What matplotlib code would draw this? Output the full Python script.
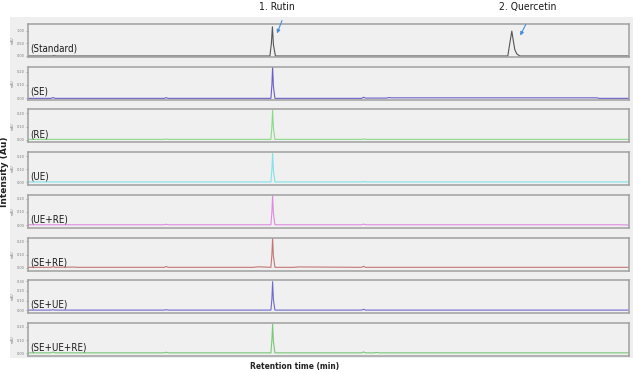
import matplotlib
matplotlib.use("Agg")
import matplotlib.pyplot as plt
from matplotlib.patches import Rectangle, FancyArrowPatch

plt.rcParams['font.family'] = ['DejaVu Sans']
plt.rcParams['font.stretch'] = 'condensed'

# retention time key points (min) and intensities (AU)
sample_names = ['(Standard)', '(SE)', '(RE)', '(UE)', '(UE+RE)', '(SE+RE)', '(SE+UE)', '(SE+UE+RE)']
line_colors = ['#555555', '#6a5fc8', '#8ada8a', '#7fe3e8', '#e08ae0', '#c47676', '#6e6ad0', '#76c876']

std_t = [0, 2.4, 2.6, 2.8, 24.15, 24.3, 24.4, 24.5, 24.7, 47.9, 48.1, 48.3, 48.45, 48.6, 48.8, 49.1, 60]
std_y = [0, 0, 0.01, 0, 0, 0.5, 1.15, 0.45, 0, 0, 0.5, 0.98, 0.6, 0.25, 0.08, 0, 0]

se_t = [0, 2.3, 2.5, 2.7, 13.6, 13.8, 14.0, 24.25, 24.35, 24.42, 24.5, 24.65, 33.3, 33.5, 33.7, 35.8, 36.0, 36.3, 56.8, 57.0, 60]
se_y = [0, 0, 0.006, 0, 0, 0.005, 0, 0, 0.1, 0.235, 0.09, 0, 0, 0.008, 0.002, 0.002, 0.006, 0.004, 0.004, 0, 0]

re_t = [0, 13.6, 13.8, 14.0, 24.25, 24.35, 24.42, 24.5, 24.65, 33.3, 33.5, 33.7, 60]
re_y = [0.003, 0.003, 0.006, 0.003, 0.003, 0.1, 0.225, 0.09, 0.003, 0.003, 0.007, 0.003, 0.003]

ue_t = [0, 24.25, 24.35, 24.42, 24.5, 24.65, 33.3, 33.5, 33.7, 60]
ue_y = [0.004, 0.004, 0.1, 0.22, 0.09, 0.004, 0.004, 0.007, 0.004, 0.004]

uere_t = [0, 13.6, 13.8, 14.0, 24.25, 24.35, 24.42, 24.5, 24.65, 33.3, 33.5, 33.7, 59.0, 60]
uere_y = [0.003, 0.003, 0.007, 0.003, 0.003, 0.1, 0.225, 0.09, 0.003, 0.003, 0.008, 0.003, 0.003, 0.001]

sere_t = [0, 2.3, 2.5, 2.7, 4.5, 5.0, 13.6, 13.8, 14.0, 22.5, 23.0, 24.25, 24.35, 24.42, 24.5, 24.65, 26.5, 27.0, 33.3, 33.5, 33.7, 60]
sere_y = [0.004, 0.004, 0.01, 0.004, 0.006, 0.004, 0.004, 0.01, 0.004, 0.004, 0.008, 0.004, 0.1, 0.225, 0.09, 0.004, 0.004, 0.007, 0.004, 0.012, 0.004, 0.004]

seue_t = [0, 2.3, 2.5, 2.7, 13.6, 13.8, 14.0, 24.25, 24.35, 24.42, 24.5, 24.65, 33.3, 33.5, 33.7, 60]
seue_y = [0.002, 0.002, 0.006, 0.002, 0.002, 0.006, 0.002, 0.002, 0.12, 0.295, 0.11, 0.002, 0.002, 0.01, 0.002, 0.002]

seuere_t = [0, 2.3, 2.5, 2.7, 13.6, 13.8, 14.0, 24.25, 24.35, 24.42, 24.5, 24.65, 33.3, 33.5, 33.7, 34.5, 34.8, 35.1, 60]
seuere_y = [0.003, 0.003, 0.01, 0.003, 0.003, 0.008, 0.003, 0.003, 0.1, 0.22, 0.09, 0.003, 0.003, 0.01, 0.003, 0.003, 0.006, 0.003, 0.003]

traces_t = [std_t, se_t, re_t, ue_t, uere_t, sere_t, seue_t, seuere_t]
traces_y = [std_y, se_y, re_y, ue_y, uere_y, sere_y, seue_y, seuere_y]

y_limits = [(-0.04, 1.26), (-0.01, 0.236), (-0.02, 0.23), (-0.02, 0.23),
            (-0.02, 0.23), (-0.02, 0.23), (-0.03, 0.31), (-0.02, 0.23)]
y_ticks = [[0, 0.5, 1.0], [0, 0.1, 0.2], [0, 0.1, 0.2], [0, 0.1, 0.2],
           [0, 0.1, 0.2], [0, 0.1, 0.2], [0, 0.1, 0.2, 0.3], [0, 0.1, 0.2]]

W, H = 633, 372
fig = plt.figure(figsize=(W / 100, H / 100), dpi=100)
fig.patch.set_facecolor('white')

# light grey frame behind the stacked chromatograms
bg = Rectangle((10 / W, 1 - 358 / H), (W - 10) / W, (358 - 17) / H,
               transform=fig.transFigure, facecolor='#efefef', edgecolor='none', zorder=-10)
fig.add_artist(bg)

left_px, right_px = 28, 629
for i in range(len(sample_names)):
    top_px = 24 + i * 42.7
    ax = fig.add_axes([left_px / W, 1 - (top_px + 33) / H, (right_px - left_px) / W, 33 / H])
    ax.set_facecolor('#f0f0f0')
    ax.plot(traces_t[i], traces_y[i], color=line_colors[i], linewidth=0.8)
    ax.set_xlim(0, 60)
    ax.set_ylim(*y_limits[i])
    ax.set_xticks([])
    ax.set_yticks(y_ticks[i])
    ax.set_yticklabels([f'{v:.2f}' for v in y_ticks[i]])
    ax.tick_params(axis='y', labelsize=2.8, length=1.5, width=0.4, pad=1, colors='#777777')
    for s in ax.spines.values():
        s.set_color('#a0a0a0')
        s.set_linewidth(1.1)
    ax.set_ylabel('mAU', fontsize=2.5, color='#777777', labelpad=1.5)
    ax.text(0.004, 0.1, sample_names[i], transform=ax.transAxes, fontsize=7,
            color='#1a1a1a', ha='left', va='bottom')

# peak labels and arrows
fig.text(277 / W, 1 - 7 / H, '1. Rutin', ha='center', va='center', fontsize=7.5, color='#1a1a1a')
fig.text(528 / W, 1 - 7 / H, '2. Quercetin', ha='center', va='center', fontsize=7.5, color='#1a1a1a')
arrow_props = dict(arrowstyle='-|>', color='#4a8fd6', linewidth=0.8, mutation_scale=5)
fig.add_artist(FancyArrowPatch((283 / W, 1 - 18 / H), (276 / W, 1 - 36 / H),
                               transform=fig.transFigure, **arrow_props))
fig.add_artist(FancyArrowPatch((527 / W, 1 - 22 / H), (519 / W, 1 - 38 / H),
                               transform=fig.transFigure, **arrow_props))

fig.text(5 / W, 1 - 172 / H, 'Intensity (Au)', rotation=90, ha='center', va='center',
         fontsize=6.5, fontweight='bold', color='#222222', stretch='normal')
fig.text(295 / W, 1 - 367 / H, 'Retention time (min)', ha='center', va='center',
         fontsize=6, fontweight='bold', color='#222222')

fig.savefig('out.png', dpi=100)
